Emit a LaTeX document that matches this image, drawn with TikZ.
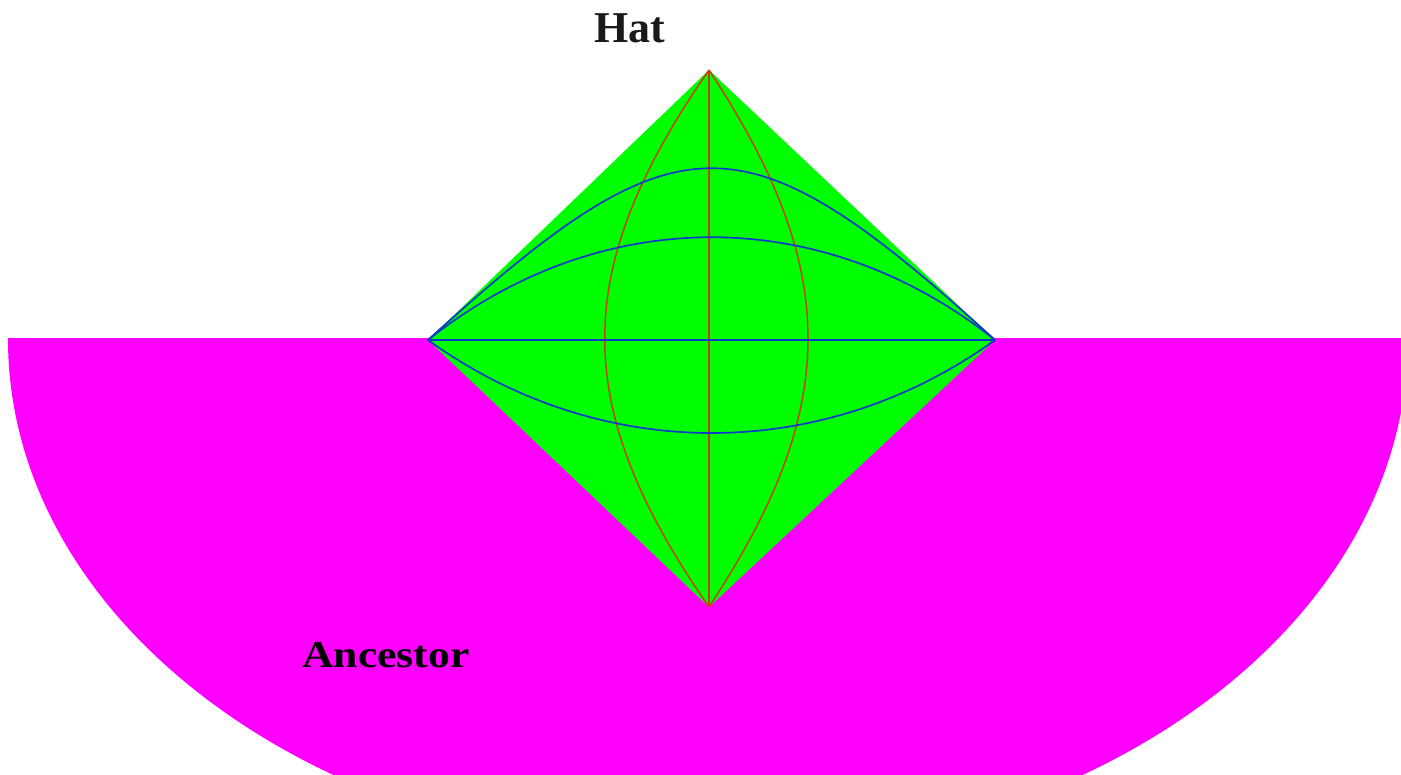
\documentclass[tikz,border=0pt]{standalone}
\usepackage{fontspec}
\setmainfont{Liberation Serif}
\definecolor{hatgreen}{HTML}{00FF00}
\definecolor{ancmag}{HTML}{FF00FF}
\definecolor{gridred}{HTML}{C8400C}
\definecolor{gridblue}{HTML}{0A3AC8}
\definecolor{labelink}{HTML}{1A1A1A}
\tikzset{
  redline/.style={draw=gridred, line width=1.5pt},
  blueline/.style={draw=gridblue, line width=1.7pt},
  biglabel/.style={font=\fontsize{44}{50}\selectfont\bfseries, text=labelink, inner sep=0pt},
}
\begin{document}
\begin{tikzpicture}[x=1pt,y=-1pt]
\useasboundingbox (0,0) rectangle (1401,775);
% coordinates
\coordinate (T) at (709,70);
\coordinate (B) at (709,607);
\coordinate (L) at (428,340);
\coordinate (R) at (995,340);
% magenta half ellipse
\begin{scope}
\clip (0,339) rectangle (1401,775);
\fill[ancmag] (708,339) ellipse [x radius=700, y radius=516];
\end{scope}
% green diamond
\fill[hatgreen] (T) -- (R) -- (B) -- (L) -- cycle;
% red meridians
\draw[redline] (T) -- (B);
\draw[redline] (T) .. controls (570,270) and (570,407) .. (B);
\draw[redline] (T) .. controls (841,270) and (841,407) .. (B);
% blue parallels
\draw[blueline] (L) -- (R);
\draw[blueline] (L) .. controls (680,111) and (743,111) .. (R);
\draw[blueline] (L) .. controls (600,203) and (823,203) .. (R);
\draw[blueline] (L) .. controls (600,464) and (823,464) .. (R);
% labels
\node[biglabel] (hat) at (630,28) {Hat};
\node[biglabel, font=\fontsize{38}{44}\selectfont\bfseries, xscale=1.15, text=black] (anc) at (386,655) {Ancestor};
\end{tikzpicture}
\end{document}
